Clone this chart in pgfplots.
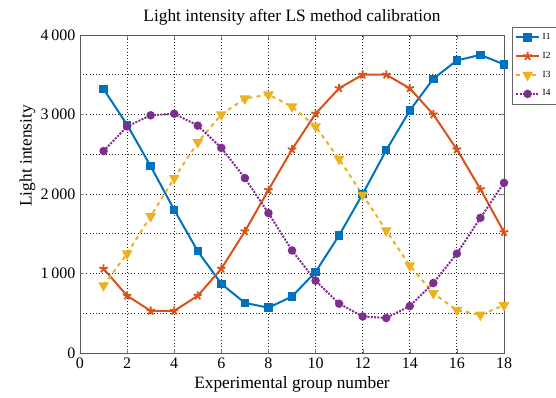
\documentclass[border=0pt]{standalone}
\usepackage{fontspec}
\setmainfont{Liberation Serif}
\usepackage{pgfplots}
\pgfplotsset{compat=1.18}
\definecolor{c1}{RGB}{0,114,189}
\definecolor{c2}{RGB}{217,83,25}
\definecolor{c3}{RGB}{237,177,32}
\definecolor{c4}{RGB}{126,47,142}
\begin{document}
\begin{tikzpicture}
\begin{axis}[name=ax,
  scale only axis, width=318pt, height=238.5pt,
  xmin=0, xmax=18, ymin=0, ymax=4000,
  xtick={0,2,...,18}, ytick={0,1000,...,4000}, minor ytick={500,1500,2500,3500},
  grid=both,
  major grid style={black!85, dotted, line width=0.7pt},
  minor grid style={black!85, dotted, line width=0.7pt},
  tick align=inside, major tick length=3pt, minor tick length=0pt,
  axis line style={black!65, line width=0.7pt},
  /pgf/number format/assume math mode=true,
  /pgf/number format/1000 sep={\,},
  scaled y ticks=false,
  tick label style={font=\fontsize{12}{13}\selectfont},
  label style={font=\fontsize{13}{15}\selectfont},
  title style={font=\fontsize{13}{15}\selectfont, yshift=-2pt},
  title={Light intensity after LS method calibration},
  xlabel={Experimental group number},
  ylabel={Light intensity},
  xlabel style={yshift=1pt},
  ylabel style={at={(ticklabel cs:0.62)}, yshift=-3pt},
  legend style={at={(1.018,1.025)}, anchor=north west, font=\fontsize{7}{8}\selectfont, draw=black!60, row sep=4pt, inner sep=2.5pt},
  legend cell align=left,
]
\addplot[c1, line width=1.5pt, mark=square*, mark size=2.4pt] coordinates {
(1,3320)(2,2870)(3,2350)(4,1800)(5,1280)(6,870)(7,630)(8,570)(9,710)(10,1020)(11,1480)(12,2000)(13,2550)(14,3050)(15,3450)(16,3680)(17,3750)(18,3630)};
\addlegendentry{I1}
\addplot[c2, line width=1.5pt, mark=star, mark size=3.3pt, mark options={line width=1.4pt}] coordinates {
(1,1060)(2,720)(3,530)(4,530)(5,720)(6,1060)(7,1530)(8,2050)(9,2560)(10,3010)(11,3330)(12,3500)(13,3500)(14,3330)(15,3000)(16,2560)(17,2060)(18,1520)};
\addlegendentry{I2}
\addplot[c3, line width=1.5pt, dashed, mark=triangle*, mark size=3.2pt, mark options={solid, rotate=180}] coordinates {
(1,850)(2,1250)(3,1720)(4,2200)(5,2650)(6,3000)(7,3200)(8,3250)(9,3100)(10,2850)(11,2440)(12,1990)(13,1540)(14,1100)(15,750)(16,540)(17,480)(18,600)};
\addlegendentry{I3}
\addplot[c4, line width=1.5pt, densely dotted, mark=*, mark size=2.4pt, mark options={solid}] coordinates {
(1,2540)(2,2850)(3,2990)(4,3010)(5,2860)(6,2580)(7,2200)(8,1760)(9,1290)(10,910)(11,620)(12,460)(13,440)(14,590)(15,880)(16,1250)(17,1700)(18,2140)};
\addlegendentry{I4}
\end{axis}
\pgfresetboundingbox
\path[use as bounding box] ([xshift=-60pt,yshift=-33.75pt]ax.south west) rectangle ([xshift=39pt,yshift=26.25pt]ax.north east);
\end{tikzpicture}
\end{document}
